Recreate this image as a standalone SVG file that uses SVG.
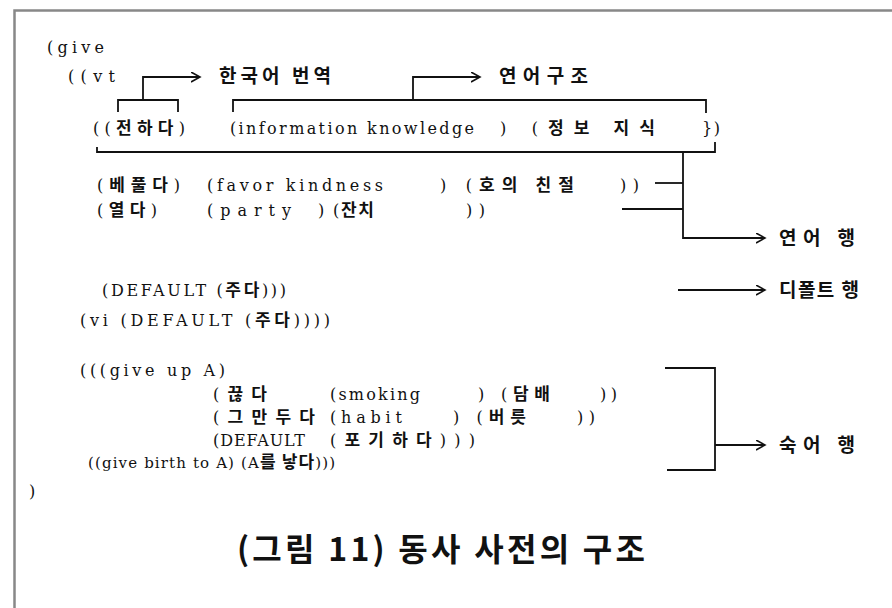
<svg xmlns="http://www.w3.org/2000/svg" width="892" height="608" viewBox="0 0 892 608">
<defs>
<style>
.c{font-family:"DejaVu Serif","Noto Sans CJK KR",serif;font-size:16px;fill:#111;}
.n{font-family:"DejaVu Serif","Noto Sans CJK KR",serif;font-size:15px;fill:#111;}
.h{font-family:"Noto Sans CJK KR",sans-serif;font-size:17px;font-weight:700;}
.k{font-family:"Noto Sans CJK KR","Liberation Sans",sans-serif;font-size:19px;font-weight:700;fill:#111;}
.cap{font-family:"Noto Sans CJK KR","Liberation Sans",sans-serif;font-size:32px;font-weight:700;fill:#111;}
.ln{fill:none;stroke:#111;stroke-width:1.8;}
.frame{fill:none;stroke:#888;stroke-width:2.5;}
</style>
<marker id="ah" markerUnits="userSpaceOnUse" markerWidth="12" markerHeight="12" refX="9" refY="5" orient="auto">
<path d="M0,0 L9,5 L0,10" fill="none" stroke="#111" stroke-width="1.6"/>
</marker>
</defs>
<rect width="892" height="608" fill="#fff"/>
<path class="frame" d="M14.5,608 V10.5 H892"/>

<g id="connectors">
<path class="ln" d="M118,112 V100 H178 V112"/>
<path class="ln" d="M143,100 V77 H200" marker-end="url(#ah)"/>
<path class="ln" d="M413,100 V77 H480" marker-end="url(#ah)"/>
<path class="ln" d="M233,112 V100 H706 V113"/>
<path class="ln" d="M97,147 V152 H715 V142"/>
<path class="ln" d="M683,152 V238 H765" marker-end="url(#ah)"/>
<path class="ln" d="M655,183 H683"/>
<path class="ln" d="M622,209 H683"/>
<path class="ln" d="M678,290 H765" marker-end="url(#ah)"/>
<path class="ln" d="M665,368 H715 V470 H667"/>
<path class="ln" d="M715,445 H765" marker-end="url(#ah)"/>
</g>

<g id="code">
<text class="c" x="47" y="53" textLength="57">(give</text>
<text class="c" x="68" y="82" textLength="47">((vt</text>
<text class="c" x="93" y="134" textLength="92">((<tspan class="h">전하다</tspan>)</text>
<text class="c" x="230" y="134" textLength="244">(information knowledge</text>
<text class="c" x="500" y="134" textLength="155">) (<tspan class="h">정보 지식</tspan></text>
<text class="c" x="702" y="134" textLength="18">})</text>
<text class="c" x="97" y="191" textLength="83">(<tspan class="h">베풀다</tspan>)</text>
<text class="c" x="207" y="191" textLength="176">(favor kindness</text>
<text class="c" x="440" y="191" textLength="134">) (<tspan class="h">호의 친절</tspan></text>
<text class="c" x="620" y="191" textLength="19">))</text>
<text class="c" x="97" y="216" textLength="60">(<tspan class="h">열다</tspan>)</text>
<text class="c" x="207" y="216" textLength="84">(party</text>
<text class="c" x="318" y="216" textLength="56">) (<tspan class="h">잔치</tspan></text>
<text class="c" x="466" y="216" textLength="19">))</text>
<text class="c" x="102" y="296" textLength="184">(DEFAULT (<tspan class="h">주다</tspan>)))</text>
<text class="c" x="80" y="326" textLength="250">(vi (DEFAULT (<tspan class="h">주다</tspan>))))</text>
<text class="c" x="80" y="376" textLength="145">(((give up A)</text>
<text class="c" x="213" y="400" textLength="54">(<tspan class="h">끊다</tspan></text>
<text class="c" x="330" y="400" textLength="90">(smoking</text>
<text class="c" x="478" y="400" textLength="72">) (<tspan class="h">담배</tspan></text>
<text class="c" x="600" y="400" textLength="17">))</text>
<text class="c" x="213" y="423" textLength="102">(<tspan class="h">그만두다</tspan></text>
<text class="c" x="330" y="423" textLength="72">(habit</text>
<text class="c" x="453" y="423" textLength="73">) (<tspan class="h">버릇</tspan></text>
<text class="c" x="577" y="423" textLength="18">))</text>
<text class="c" x="213" y="446" textLength="92">(DEFAULT</text>
<text class="c" x="330" y="446" textLength="145">(<tspan class="h">포기하다</tspan>)))</text>
<text class="n" x="88" y="468" textLength="247">((give birth to A) (A<tspan class="h">를 낳다</tspan>)))</text>
<text class="c" x="29" y="497">)</text>
</g>

<g id="label-hangul"><text class="k" x="219" y="83" textLength="112">한국어 번역</text></g>
<g id="label-collocation"><text class="k" x="499" y="83" textLength="89">연어구조</text></g>
<g id="label-colloc-row"><text class="k" x="779" y="245" textLength="76">연어 행</text></g>
<g id="label-default-row"><text class="k" x="779" y="297" textLength="80">디폴트 행</text></g>
<g id="label-idiom-row"><text class="k" x="779" y="452" textLength="76">숙어 행</text></g>
<g id="caption"><text class="cap" x="237" y="561" textLength="408">(그림 11) 동사 사전의 구조</text></g>
</svg>
